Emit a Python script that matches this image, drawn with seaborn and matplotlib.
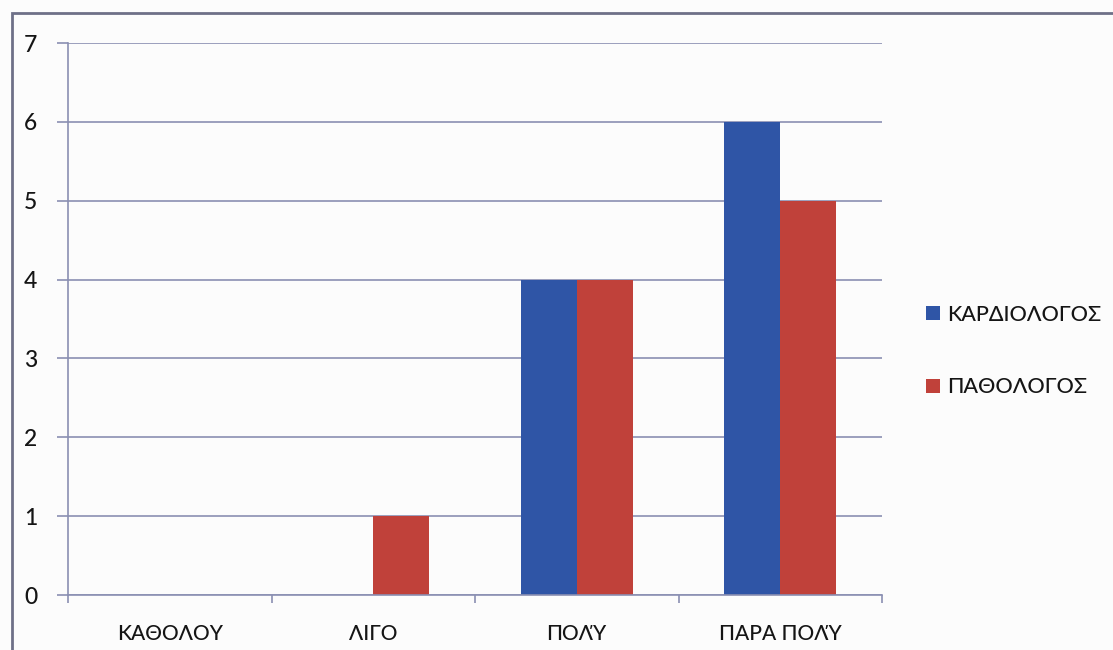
import matplotlib
matplotlib.use("Agg")
import matplotlib.pyplot as plt
from matplotlib.patches import Rectangle, Patch
import numpy as np
import pandas as pd
import seaborn as sns

categories = ["ΚΑΘΟΛΟΥ", "ΛΙΓΟ", "ΠΟΛΎ", "ΠΑΡΑ ΠΟΛΎ"]
series_names = ["ΚΑΡΔΙΟΛΟΓΟΣ", "ΠΑΘΟΛΟΓΟΣ"]
kardiologos = [0, 0, 4, 6]
pathologos = [0, 1, 4, 5]
y_ticks = [0, 1, 2, 3, 4, 5, 6, 7]

df = pd.DataFrame({
    "category": categories * 2,
    "group": [series_names[0]] * len(categories) + [series_names[1]] * len(categories),
    "value": kardiologos + pathologos,
})

sns.set_theme(style="white")
plt.rcParams["font.family"] = ["Lato", "DejaVu Sans"]
plt.rcParams["font.weight"] = 500

blue = "#2F55A6"
red = "#C0413A"
line_col = "#8A8FB2"
text_col = "#151515"

fig = plt.figure(figsize=(11.13, 6.5), dpi=100, facecolor="#FCFCFC")
W, H = 1113, 650
ax = fig.add_axes([68 / W, 1 - 595 / H, (882 - 68) / W, (595 - 43) / H])
ax.set_facecolor("none")

sns.barplot(data=df, x="category", y="value", hue="group", order=categories,
            hue_order=series_names, palette=[blue, red], width=0.55,
            saturation=1, linewidth=0, ax=ax, legend=False)

ax.set_xlim(-0.5, len(categories) - 0.5)
ax.set_ylim(0, 7)
ax.set_yticks(y_ticks)
ax.set_yticklabels([str(t) for t in y_ticks], fontsize=16.5, color=text_col)
ax.yaxis.grid(True, color=line_col, linewidth=1.2)
ax.set_axisbelow(True)

ax.set_xticks(range(len(categories)))
ax.set_xticklabels(categories, fontsize=15, color=text_col)
ax.set_xticks(np.arange(-0.5, len(categories)), minor=True)
ax.tick_params(axis="x", which="major", length=0, pad=21)
ax.tick_params(axis="x", which="minor", length=6, width=1.2, color=line_col, bottom=True)
ax.tick_params(axis="y", length=8, width=1.2, color=line_col, pad=14, left=True)
ax.set_xlabel("")
ax.set_ylabel("")

for s in ["top", "right"]:
    ax.spines[s].set_visible(False)
for s in ["left", "bottom"]:
    ax.spines[s].set_color(line_col)
    ax.spines[s].set_linewidth(1.2)

handles = [Patch(facecolor=blue, edgecolor="none"), Patch(facecolor=red, edgecolor="none")]
fig.legend(handles, series_names, loc="center left",
           bbox_to_anchor=(907 / W, 1 - 351 / H), frameon=False,
           fontsize=15.5, labelcolor=text_col, handlelength=0.65, handleheight=0.65,
           handletextpad=0.3, labelspacing=2.45)

# outer chart frame
fig.patches.append(Rectangle((12 / W, -0.05), 1.2, 1 - 13 / H + 0.05,
                             transform=fig.transFigure, fill=False,
                             edgecolor="#6E7088", linewidth=2.0))

fig.savefig("out.png", dpi=100, facecolor=fig.get_facecolor())
